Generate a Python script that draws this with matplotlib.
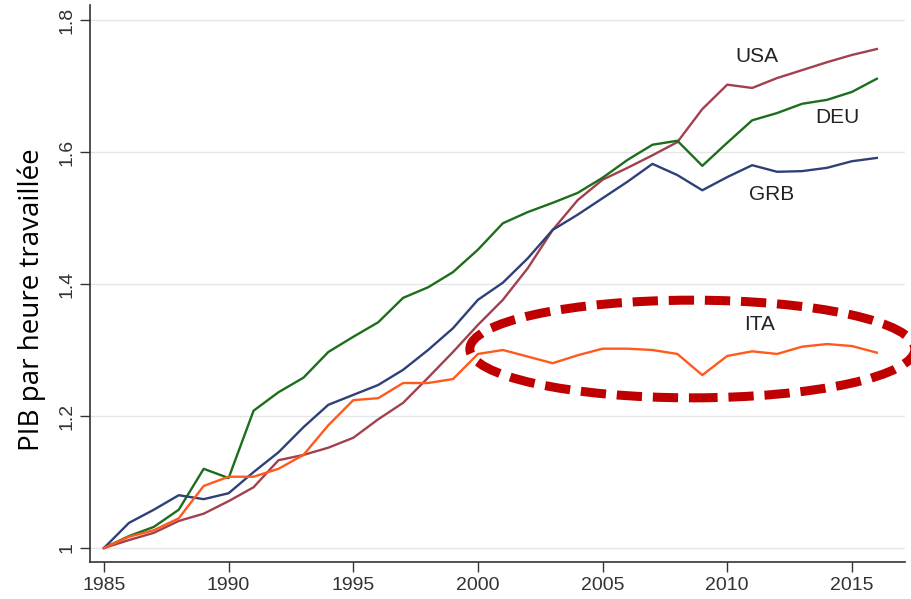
import matplotlib
matplotlib.use("Agg")
import matplotlib.pyplot as plt
from matplotlib.patches import Ellipse

years = list(range(1985, 2017))

usa = [1.000, 1.012, 1.023, 1.041, 1.052, 1.071, 1.092, 1.133, 1.141, 1.152,
       1.167, 1.195, 1.220, 1.258, 1.297, 1.338, 1.376, 1.424, 1.482, 1.527,
       1.558, 1.576, 1.595, 1.615, 1.665, 1.702, 1.697, 1.712, 1.724, 1.736,
       1.747, 1.756]
deu = [1.000, 1.018, 1.032, 1.058, 1.120, 1.106, 1.208, 1.236, 1.258, 1.297,
       1.320, 1.342, 1.379, 1.395, 1.418, 1.452, 1.492, 1.509, 1.523, 1.538,
       1.561, 1.588, 1.611, 1.617, 1.579, 1.614, 1.648, 1.659, 1.673, 1.679,
       1.691, 1.711]
grb = [1.000, 1.038, 1.058, 1.080, 1.074, 1.083, 1.115, 1.145, 1.183, 1.217,
       1.232, 1.247, 1.270, 1.300, 1.333, 1.376, 1.402, 1.439, 1.482, 1.505,
       1.530, 1.555, 1.582, 1.565, 1.542, 1.562, 1.580, 1.570, 1.571, 1.576,
       1.586, 1.591]
ita = [1.000, 1.017, 1.027, 1.045, 1.094, 1.108, 1.108, 1.120, 1.141, 1.186,
       1.224, 1.227, 1.250, 1.250, 1.256, 1.294, 1.300, 1.290, 1.280, 1.292,
       1.302, 1.302, 1.300, 1.294, 1.262, 1.291, 1.298, 1.294, 1.305, 1.309,
       1.306, 1.296]

series = [("USA", usa, "#a2404e"), ("DEU", deu, "#1c6e1c"),
          ("GRB", grb, "#2f4078"), ("ITA", ita, "#ff5a1c")]
labels = {"USA": (2011.2, 1.745), "DEU": (2014.4, 1.653),
          "GRB": (2011.8, 1.536), "ITA": (2011.3, 1.338)}

xticks = [1985, 1990, 1995, 2000, 2005, 2010, 2015]
yticks = [1.0, 1.2, 1.4, 1.6, 1.8]
ytick_labels = ["1", "1.2", "1.4", "1.6", "1.8"]

fig = plt.figure(figsize=(9.12, 5.99), dpi=100)
ax = fig.add_axes([90/912, 1-562/599, (905-90)/912, (562-5)/599])

for name, vals, col in series:
    ax.plot(years, vals, color=col, lw=1.7, zorder=3)

for name, (x, y) in labels.items():
    ax.text(x, y, name, fontsize=15, family="Liberation Sans", color="#222222",
            ha="center", va="center")

ell = Ellipse((2008.6, 1.3015), 17.85, 0.148, fill=False, edgecolor="#c00000",
              lw=6.5, linestyle=(0, (2.8, 1.2)), clip_on=False, zorder=4)
ax.add_patch(ell)

ax.set_xlim(1984.44, 2017.13)
ax.set_ylim(0.9788, 1.8227)
ax.set_xticks(xticks)
ax.set_xticklabels([str(t) for t in xticks])
ax.set_yticks(yticks)
ax.set_yticklabels(ytick_labels, rotation=90, va="center")
ax.tick_params(axis="both", labelsize=14, colors="#333333", length=7, width=1,
               direction="out")
for lab in ax.get_xticklabels() + ax.get_yticklabels():
    lab.set_family("Liberation Sans")
ax.yaxis.grid(True, color="#e6e6e6", lw=1)
ax.set_axisbelow(True)
for s in ["top", "right"]:
    ax.spines[s].set_visible(False)
for s in ["left", "bottom"]:
    ax.spines[s].set_color("#333333")
    ax.spines[s].set_linewidth(1.2)

fig.text(32/912, 1-300/599, "PIB par heure travaillée", rotation=90,
         fontsize=20, family="Open Sans", ha="center", va="center", color="black")

fig.savefig("out.png", dpi=100)
